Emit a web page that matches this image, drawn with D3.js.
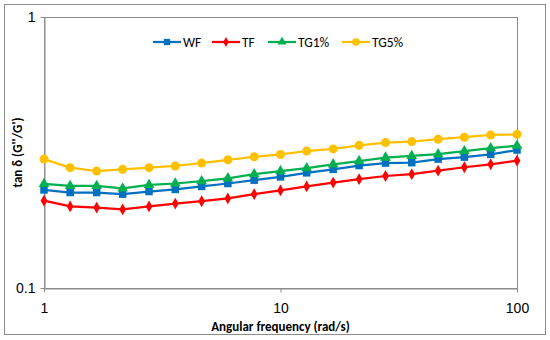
<!DOCTYPE html>
<html>
<head>
<meta charset="utf-8">
<script src="https://d3js.org/d3.v7.min.js"></script>
<style>
  body { margin: 0; background: #fff; }
  svg { font-family: Calibri, Carlito, "Open Sans", "Noto Sans", sans-serif; }
</style>
</head>
<body>
<svg width="550" height="340"></svg>
<script>
// angular frequency (rad/s)
var freq = [1, 1.29, 1.67, 2.15, 2.78, 3.59, 4.64, 5.99, 7.74, 10,
            12.9, 16.7, 21.5, 27.8, 35.9, 46.4, 59.9, 77.4, 100];

// tan delta per sample
var wf  = [0.230, 0.225, 0.225, 0.222, 0.227, 0.231, 0.237, 0.243, 0.250, 0.257,
           0.266, 0.274, 0.283, 0.289, 0.290, 0.299, 0.304, 0.311, 0.323];
var tf  = [0.210, 0.200, 0.198, 0.195, 0.200, 0.205, 0.209, 0.214, 0.222, 0.229,
           0.237, 0.245, 0.252, 0.259, 0.263, 0.271, 0.279, 0.286, 0.295];
var tg1 = [0.242, 0.238, 0.238, 0.233, 0.240, 0.243, 0.248, 0.254, 0.263, 0.270,
           0.277, 0.286, 0.294, 0.303, 0.307, 0.312, 0.320, 0.328, 0.335];
var tg5 = [0.299, 0.278, 0.270, 0.274, 0.278, 0.282, 0.289, 0.297, 0.305, 0.311,
           0.320, 0.326, 0.336, 0.344, 0.347, 0.354, 0.360, 0.367, 0.369];

var seriesNames = ['WF', 'TF', 'TG1%', 'TG5%'];
var xTicks = [1, 10, 100];
var yTicks = [0.1, 1];

var series = [
  { name: seriesNames[0], values: wf,  color: '#0070C0', symbol: d3.symbolSquare,   size: 56 },
  { name: seriesNames[1], values: tf,  color: '#FF0000', symbol: d3.symbolDiamond,  size: 40 },
  { name: seriesNames[2], values: tg1, color: '#00B050', symbol: d3.symbolTriangle, size: 50 },
  { name: seriesNames[3], values: tg5, color: '#FFC000', symbol: d3.symbolCircle,   size: 64 }
];

var svg = d3.select('svg');
var L = 44, R = 517, T = 17, B = 288;

// outer chart border
svg.append('rect')
  .attr('x', 4.5).attr('y', 4.5)
  .attr('width', 541).attr('height', 330)
  .attr('fill', '#fff').attr('stroke', '#8c8c8c').attr('stroke-width', 1);

var x = d3.scaleLog().domain([1, 100]).range([L, R]);
var y = d3.scaleLog().domain([0.1, 1]).range([B, T]);

// plot area border
svg.append('rect')
  .attr('x', L + 0.5).attr('y', T + 0.5)
  .attr('width', R - L).attr('height', B - T)
  .attr('fill', 'none').attr('stroke', '#8c8c8c');

var xAxis = d3.axisBottom(x).tickValues(xTicks).tickFormat(d3.format('d')).tickSize(4).tickSizeOuter(0);
var yAxis = d3.axisLeft(y).tickValues(yTicks).tickFormat(function (d) { return d; }).tickSize(4).tickSizeOuter(0);

var gx = svg.append('g').attr('transform', 'translate(0,' + (B + 0.5) + ')').call(xAxis);
var gy = svg.append('g').attr('transform', 'translate(' + (L + 0.5) + ',0)').call(yAxis);

[gx, gy].forEach(function (g) {
  g.select('.domain').attr('stroke', '#8c8c8c');
  g.selectAll('.tick line').attr('stroke', '#8c8c8c');
  g.selectAll('.tick text').attr('fill', '#000').style('font-size', '14px');
});
gx.selectAll('.tick text').attr('dy', '1.25em');
gy.selectAll('.tick text').attr('x', -9);

// axis titles
svg.append('text')
  .attr('x', (L + R) / 2).attr('y', 331)
  .attr('text-anchor', 'middle')
  .style('font-size', '13px').style('font-weight', 'bold')
  .text('Angular frequency (rad/s)');

svg.append('text')
  .attr('transform', 'translate(22,' + ((T + B) / 2) + ') rotate(-90)')
  .attr('text-anchor', 'middle')
  .style('font-size', '13px').style('font-weight', 'bold')
  .text("tan δ (G''/G')");

// lines and markers
var line = d3.line()
  .x(function (d, i) { return x(freq[i]); })
  .y(function (d) { return y(d); });

series.forEach(function (s) {
  var g = svg.append('g');
  g.append('path')
    .datum(s.values)
    .attr('d', line)
    .attr('fill', 'none')
    .attr('stroke', s.color)
    .attr('stroke-width', 2.25);
  g.selectAll('path.m').data(s.values).enter()
    .append('path')
    .attr('class', 'm')
    .attr('d', d3.symbol().type(s.symbol).size(s.size))
    .attr('transform', function (d, i) { return 'translate(' + x(freq[i]) + ',' + y(d) + ')'; })
    .attr('fill', s.color);
});

// legend
var legendX = [153, 212, 268, 342];
var lg = svg.append('g').attr('transform', 'translate(0,42)');
series.forEach(function (s, i) {
  var g = lg.append('g').attr('transform', 'translate(' + legendX[i] + ',0)');
  g.append('line').attr('x1', 0).attr('x2', 28).attr('y1', 0).attr('y2', 0)
    .attr('stroke', s.color).attr('stroke-width', 2.25);
  g.append('path').attr('d', d3.symbol().type(s.symbol).size(s.size * 0.7))
    .attr('transform', 'translate(14,0)').attr('fill', s.color);
  g.append('text').attr('x', 30).attr('y', 5)
    .style('font-size', '13.5px').text(s.name);
});
</script>
</body>
</html>
